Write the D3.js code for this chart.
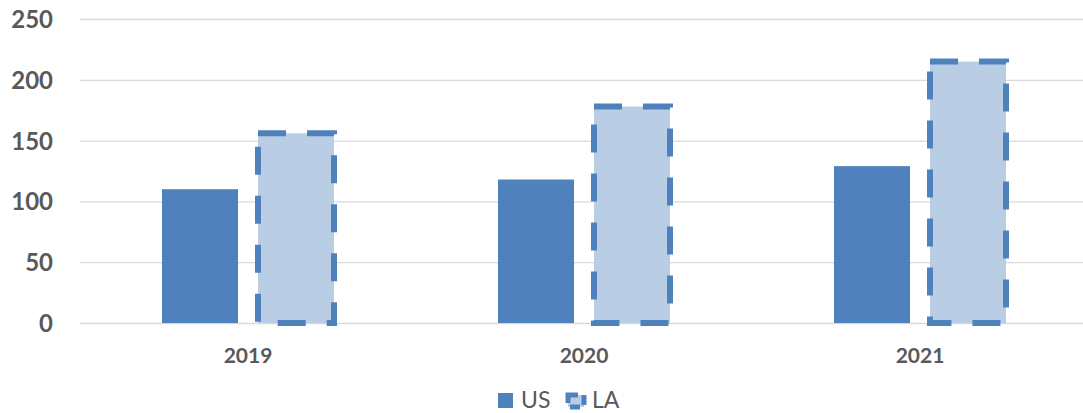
<!DOCTYPE html>
<meta charset="utf-8">
<script src="https://cdn.jsdelivr.net/npm/d3@7"></script>
<style>
  body { margin: 0; background: #fff; }
  text { font-family: Lato, "Open Sans", sans-serif; fill: #595959; }
</style>
<body>
<div id="viz"></div>
<script>
  var width = 1083, height = 413;

  var years = ["2019", "2020", "2021"];
  var seriesNames = ["US", "LA"];
  var usValues = [110, 118, 129];
  var laValues = [156, 178, 215];
  var yTicks = [0, 50, 100, 150, 200, 250];

  var blue = "#4F81BD", light = "#B9CDE5";

  var rows = years.map(function(y, i) {
    return { year: y, US: usValues[i], LA: laValues[i] };
  });

  var svg = d3.select("#viz").append("svg")
    .attr("width", width)
    .attr("height", height);

  // plot area runs a bit past the right edge of the picture
  var plotL = 80, plotR = 1088, plotT = 19, plotB = 323;

  var y = d3.scaleLinear().domain([0, 250]).range([plotB, plotT]);

  var x0 = d3.scaleBand().domain(years).range([plotL, plotR]);
  // bars 76 wide with 20 gap, group centred in band
  var x1 = d3.scaleBand().domain(seriesNames)
    .range([x0.bandwidth() / 2 - 86, x0.bandwidth() / 2 + 86])
    .paddingInner(20 / 96).paddingOuter(0);

  // gridlines
  svg.append("g")
    .attr("transform", "translate(" + plotL + ",0)")
    .call(d3.axisLeft(y).tickValues(yTicks).tickSize(-(plotR - plotL)).tickFormat(""))
    .call(function(g) {
      g.select(".domain").remove();
      g.selectAll("line").attr("stroke", "#D9D9D9").attr("stroke-width", 1.3);
    });

  // y labels
  svg.append("g")
    .attr("transform", "translate(53,0)")
    .call(d3.axisLeft(y).tickValues(yTicks).tickSize(0).tickPadding(0))
    .call(function(g) {
      g.select(".domain").remove();
      g.selectAll("text")
        .style("font-size", "24px").style("font-weight", "bold")
        .attr("fill", "#595959").attr("dy", "0.35em");
    });

  // x labels
  svg.append("g")
    .attr("transform", "translate(0," + plotB + ")")
    .call(d3.axisBottom(x0).tickSize(0))
    .call(function(g) {
      g.select(".domain").remove();
      g.selectAll("text")
        .attr("y", 40).attr("dy", 0)
        .style("font-size", "21px").style("font-weight", "bold")
        .attr("fill", "#595959");
    });

  var groups = svg.selectAll(".yr")
    .data(rows)
    .enter().append("g")
    .attr("transform", function(d) { return "translate(" + x0(d.year) + ",0)"; });

  groups.append("rect")
    .attr("x", x1("US"))
    .attr("y", function(d) { return y(d.US); })
    .attr("width", x1.bandwidth())
    .attr("height", function(d) { return plotB - y(d.US); })
    .attr("fill", blue);

  groups.append("rect")
    .attr("x", x1("LA"))
    .attr("y", function(d) { return y(d.LA); })
    .attr("width", x1.bandwidth())
    .attr("height", function(d) { return plotB - y(d.LA); })
    .attr("fill", light)
    .attr("stroke", blue)
    .attr("stroke-width", 6)
    .attr("stroke-dasharray", "28 21");

  // legend
  var legend = svg.append("g").attr("transform", "translate(0,400)");
  legend.append("rect")
    .attr("x", 498).attr("y", -7).attr("width", 15).attr("height", 15)
    .attr("fill", blue);
  legend.append("text")
    .attr("x", 521).attr("y", 0).attr("dy", "0.35em")
    .style("font-size", "23px").text(seriesNames[0]);
  legend.append("rect")
    .attr("x", 568).attr("y", -5).attr("width", 16).attr("height", 12)
    .attr("fill", light).attr("stroke", blue).attr("stroke-width", 5)
    .attr("stroke-dasharray", "10 6");
  legend.append("text")
    .attr("x", 592).attr("y", 0).attr("dy", "0.35em")
    .style("font-size", "23px").text(seriesNames[1]);
</script>
